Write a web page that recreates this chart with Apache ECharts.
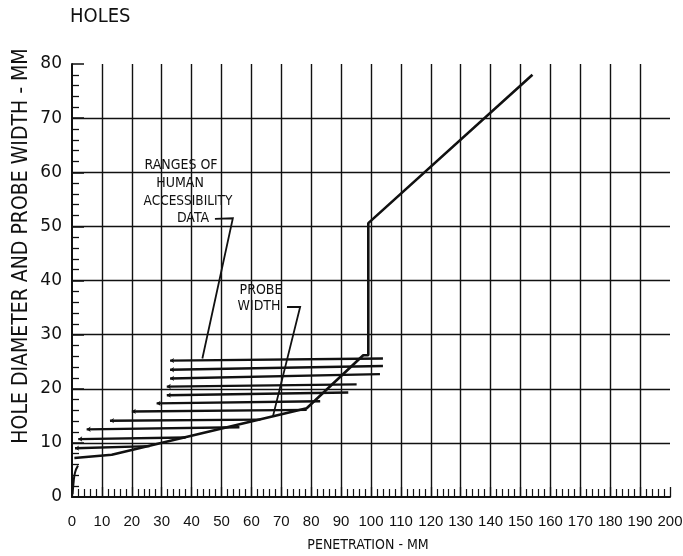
<!DOCTYPE html>
<html><head><meta charset="utf-8">
<script src="https://cdn.jsdelivr.net/npm/echarts@6/dist/echarts.min.js"></script>
<style>html,body{margin:0;padding:0;background:#fff}#c{width:683px;height:556px}</style>
</head><body><div id="c"></div>
<script>
// ---- chart text ----
const chartTitle = 'HOLES';
const xAxisName = 'PENETRATION - MM';
const yAxisName = 'HOLE DIAMETER AND PROBE WIDTH - MM';
const rangesNote = ['RANGES OF', 'HUMAN', 'ACCESSIBILITY', 'DATA'];
const probeNote = ['PROBE', 'WIDTH'];

// ---- axes ----
const xMin = 0, xMax = 200, xStep = 10;
const yMin = 0, yMax = 80, yStep = 10;

// ---- probe width curve (mm) ----
const probeX = [0.8, 13.3, 78.5, 97.4, 99.1, 99.1, 154];
const probeY = [7.2, 7.8, 16.4, 26.2, 26.2, 50.6, 78.0];
const originX = [0.2, 0.5, 1.0, 2.0];
const originY = [0.5, 2.5, 4.5, 5.8];

// ---- ranges of human accessibility data (one horizontal bar each) ----
const rangeStartX = [32.8, 32.8, 32.8, 31.7, 31.7, 28.3, 20.0, 12.7, 4.9, 2.1, 1.0];
const rangeStartY = [25.2, 23.5, 21.9, 20.4, 18.8, 17.3, 15.8, 14.1, 12.5, 10.7, 9.0];
const rangeEndX   = [104, 104, 103, 95.2, 92.4, 83.0, 78.5, 63.0, 56.0, 38.0, 26.0];
const rangeEndY   = [25.6, 24.2, 22.7, 20.8, 19.3, 17.7, 16.1, 14.3, 12.9, 11.0, 9.4];

// ---- annotation leader lines ----
const rangesLeaderX = [47.8, 53.8, 43.6];
const rangesLeaderY = [51.4, 51.5, 25.6];
const probeLeaderX = [71.9, 76.3, 67.2];
const probeLeaderY = [35.1, 35.1, 14.9];

const zip = (a, b) => a.map((v, i) => [v, b[i]]);
const INK = '#111';
const HAND = '"DejaVu Sans Condensed", "DejaVu Sans", sans-serif';

const chart = echarts.init(document.getElementById('c'), null, {renderer: 'canvas'});

const rangeData = rangeStartX.map((x, i) => ({coords: [[x, rangeStartY[i]], [rangeEndX[i], rangeEndY[i]]]}));

const option = {
  animation: false,
  backgroundColor: '#fff',
  grid: {left: 72, right: 13, top: 64, bottom: 59, containLabel: false, outerBoundsMode: 'none'},
  xAxis: {
    type: 'value', min: xMin, max: xMax, interval: xStep,
    axisLine: {show: true, onZero: false, lineStyle: {color: INK, width: 2}},
    axisTick: {show: true, inside: true, length: 10, lineStyle: {color: INK, width: 1.3}},
    minorTick: {show: true, splitNumber: 5, length: 8, lineStyle: {color: INK, width: 1.2}},
    axisLabel: {color: INK, fontSize: 15, fontFamily: '"Liberation Sans", sans-serif', margin: 17},
    splitLine: {show: true, showMinLine: false, showMaxLine: false, lineStyle: {color: INK, width: 1.4}}
  },
  yAxis: {
    type: 'value', min: yMin, max: yMax, interval: yStep,
    axisLine: {show: true, onZero: false, lineStyle: {color: INK, width: 2}},
    axisTick: {show: true, inside: true, length: 12, lineStyle: {color: INK, width: 1.5}},
    minorTick: {show: true, splitNumber: 5, length: 7, lineStyle: {color: INK, width: 1.3}},
    axisLabel: {color: INK, fontSize: 17, fontFamily: '"DejaVu Sans", sans-serif', margin: 10},
    splitLine: {show: true, showMinLine: false, showMaxLine: false, lineStyle: {color: INK, width: 1.4}}
  },
  series: [
    {type: 'line', data: zip(probeX, probeY), symbol: 'none', lineStyle: {color: INK, width: 2.6}, z: 5},
    {type: 'line', data: zip(originX, originY), symbol: 'none', smooth: true, lineStyle: {color: INK, width: 2}, z: 5},
    {type: 'lines', coordinateSystem: 'cartesian2d', data: rangeData,
     symbol: ['arrow', 'none'], symbolSize: 4,
     lineStyle: {color: INK, width: 2.4, opacity: 1, curveness: 0}, z: 4},
    {type: 'lines', coordinateSystem: 'cartesian2d', polyline: true,
     data: [{coords: zip(rangesLeaderX, rangesLeaderY)}],
     symbol: ['none', 'arrow'], symbolSize: 7,
     lineStyle: {color: INK, width: 1.8, opacity: 1}, z: 6},
    {type: 'lines', coordinateSystem: 'cartesian2d', polyline: true,
     data: [{coords: zip(probeLeaderX, probeLeaderY)}],
     symbol: ['none', 'none'],
     lineStyle: {color: INK, width: 1.8, opacity: 1}, z: 6}
  ],
  graphic: [
    {type: 'text', left: 70, top: 7, style: {text: chartTitle, fill: INK, font: '20px ' + HAND}},
    {type: 'text', x: 22, y: 246, rotation: Math.PI / 2,
     style: {text: yAxisName, fill: INK, font: '21px ' + HAND, align: 'center', verticalAlign: 'middle'}},
    {type: 'text', x: 368, y: 545, style: {text: xAxisName, fill: INK, font: '14px ' + HAND, align: 'center', verticalAlign: 'middle'}},
    {type: 'text', x: 181, y: 165, style: {text: rangesNote[0], fill: INK, font: '14px ' + HAND, align: 'center', verticalAlign: 'middle'}},
    {type: 'text', x: 180, y: 183, style: {text: rangesNote[1], fill: INK, font: '14px ' + HAND, align: 'center', verticalAlign: 'middle'}},
    {type: 'text', x: 188, y: 201, style: {text: rangesNote[2], fill: INK, font: '13.5px ' + HAND, align: 'center', verticalAlign: 'middle'}},
    {type: 'text', x: 193, y: 218, style: {text: rangesNote[3], fill: INK, font: '14px ' + HAND, align: 'center', verticalAlign: 'middle'}},
    {type: 'text', x: 261, y: 290, style: {text: probeNote[0], fill: INK, font: '14px ' + HAND, align: 'center', verticalAlign: 'middle'}},
    {type: 'text', x: 259, y: 306, style: {text: probeNote[1], fill: INK, font: '14px ' + HAND, align: 'center', verticalAlign: 'middle'}}
  ]
};
chart.setOption(option);
</script>
</body></html>
